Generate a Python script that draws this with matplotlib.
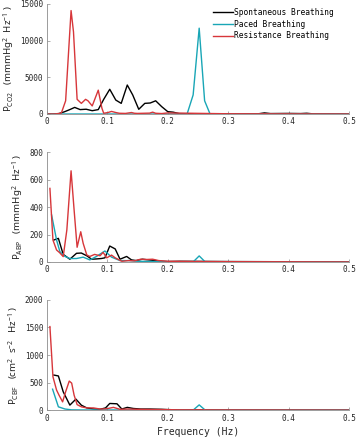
import numpy as np
import matplotlib
matplotlib.use('Agg')
import matplotlib.pyplot as plt

# spectra (frequency in Hz, power)
labels = ['Spontaneous Breathing', 'Paced Breathing', 'Resistance Breathing']
colors = ['#000000', '#19a6b6', '#d7363a']

# P_CO2
co2_spont_f = [0, 0.01, 0.02, 0.029, 0.039, 0.046, 0.055, 0.065, 0.075, 0.085, 0.094, 0.104,
               0.114, 0.123, 0.133, 0.142, 0.152, 0.162, 0.171, 0.180, 0.190, 0.200, 0.209,
               0.219, 0.25, 0.3, 0.35, 0.36, 0.37, 0.4, 0.42, 0.43, 0.44, 0.5]
co2_spont_p = [0, 10, 60, 300, 640, 900, 600, 650, 450, 600, 2000, 3370,
               1900, 1450, 3950, 2600, 640, 1450, 1500, 1800, 1000, 320, 250,
               50, 30, 20, 30, 150, 60, 80, 60, 100, 20, 0]
co2_paced_f = [0, 0.232, 0.242, 0.252, 0.261, 0.270, 0.5]
co2_paced_p = [0, 0, 2600, 11700, 1800, 0, 0]
co2_resist_f = [0, 0.012, 0.019, 0.024, 0.031, 0.040, 0.044, 0.050, 0.057, 0.064, 0.068, 0.075,
                0.085, 0.091, 0.094, 0.101, 0.107, 0.114, 0.12, 0.13, 0.14, 0.145, 0.15, 0.16,
                0.17, 0.175, 0.18, 0.19, 0.2, 0.22, 0.24, 0.3, 0.5]
co2_resist_p = [0, 0, 50, 150, 1800, 14100, 11200, 2000, 1450, 2000, 1800, 1100,
                3250, 800, 100, 200, 350, 200, 100, 80, 200, 100, 80, 100,
                120, 250, 100, 60, 150, 120, 100, 30, 0]

# P_ABP
abp_spont_f = [0.0116, 0.019, 0.027, 0.038, 0.049, 0.057, 0.066, 0.074, 0.082, 0.090, 0.096,
               0.104, 0.113, 0.121, 0.132, 0.140, 0.148, 0.158, 0.168, 0.18, 0.19, 0.2, 0.22,
               0.3, 0.5]
abp_spont_p = [160, 172, 55, 20, 63, 65, 45, 20, 22, 25, 30,
               116, 95, 20, 40, 15, 10, 20, 15, 10, 5, 3, 5,
               3, 0]
abp_paced_f = [0.0078, 0.016, 0.0215, 0.030, 0.038, 0.049, 0.060, 0.071, 0.082, 0.096, 0.107,
               0.121, 0.137, 0.15, 0.18, 0.2, 0.242, 0.252, 0.262, 0.3, 0.5]
abp_paced_p = [342, 160, 75, 40, 25, 25, 35, 15, 40, 80, 35,
               10, 10, 5, 3, 2, 0, 44, 0, 0, 0]
abp_resist_f = [0.005, 0.010, 0.016, 0.021, 0.027, 0.033, 0.040, 0.045, 0.050, 0.056, 0.060,
                0.066, 0.071, 0.079, 0.088, 0.093, 0.099, 0.107, 0.113, 0.124, 0.135, 0.145,
                0.155, 0.165, 0.175, 0.185, 0.2, 0.25, 0.3, 0.5]
abp_resist_p = [536, 160, 87, 68, 39, 233, 664, 380, 107, 220, 136,
                51, 40, 55, 45, 70, 30, 50, 30, 5, 10, 8,
                20, 18, 20, 10, 5, 3, 2, 0]

# P_CBF
cbf_spont_f = [0.0116, 0.019, 0.027, 0.038, 0.048, 0.057, 0.066, 0.077, 0.088, 0.097, 0.104,
               0.116, 0.124, 0.133, 0.143, 0.155, 0.17, 0.19, 0.2, 0.22, 0.3, 0.5]
cbf_spont_p = [636, 620, 333, 91, 200, 90, 40, 20, 15, 40, 121,
               115, 20, 50, 30, 20, 20, 15, 10, 3, 2, 0]
cbf_paced_f = [0.0094, 0.019, 0.030, 0.041, 0.06, 0.1, 0.15, 0.2, 0.242, 0.252, 0.262, 0.3, 0.5]
cbf_paced_p = [380, 60, 20, 5, 3, 3, 2, 2, 0, 95, 0, 0, 0]
cbf_resist_f = [0.005, 0.010, 0.016, 0.020, 0.026, 0.031, 0.037, 0.041, 0.045, 0.050, 0.057,
                0.066, 0.077, 0.088, 0.099, 0.110, 0.121, 0.135, 0.15, 0.17, 0.19, 0.22, 0.3, 0.5]
cbf_resist_p = [1515, 606, 364, 273, 150, 333, 527, 490, 273, 100, 60,
                40, 40, 20, 25, 50, 15, 20, 15, 12, 10, 5, 3, 0]

xticks = [0, 0.1, 0.2, 0.3, 0.4, 0.5]
xticklabels = ['0', '0.1', '0.2', '0.3', '0.4', '0.5']

panels = [
    ([(co2_spont_f, co2_spont_p), (co2_paced_f, co2_paced_p), (co2_resist_f, co2_resist_p)],
     [0, 5000, 10000, 15000],
     r'P$_{\mathregular{CO2}}$   (mmmHg$^{\mathregular{2}}$  Hz$^{\mathregular{-1}}$ )'),
    ([(abp_spont_f, abp_spont_p), (abp_paced_f, abp_paced_p), (abp_resist_f, abp_resist_p)],
     [0, 200, 400, 600, 800],
     r'P$_{\mathregular{ABP}}$   (mmmHg$^{\mathregular{2}}$  Hz$^{\mathregular{-1}}$ )'),
    ([(cbf_spont_f, cbf_spont_p), (cbf_paced_f, cbf_paced_p), (cbf_resist_f, cbf_resist_p)],
     [0, 500, 1000, 1500, 2000],
     r'P$_{\mathregular{CBF}}$   (cm$^{\mathregular{2}}$  s$^{\mathregular{-2}}$   Hz$^{\mathregular{-1}}$ )'),
]

plt.rcParams['mathtext.default'] = 'regular'
mono = 'DejaVu Sans Mono'
axcol = '#8c8c8c'

fig = plt.figure(figsize=(3.58, 4.41), dpi=100)
boxes = [(0.131, 0.7415, 0.844, 0.2495),
         (0.131, 0.406, 0.844, 0.249),
         (0.131, 0.070, 0.844, 0.250)]

for i, (series, yticks, ylab) in enumerate(panels):
    ax = fig.add_axes(boxes[i])
    for (f, p), c, lab in zip(series, colors, labels):
        ax.plot(f, p, color=c, lw=1.0, label=lab)
    ax.set_xlim(0, 0.5)
    ax.set_ylim(yticks[0], yticks[-1])
    ax.set_xticks(xticks)
    ax.set_xticklabels(xticklabels, fontfamily=mono, fontsize=5.5, color='#262626')
    ax.set_yticks(yticks)
    ax.set_yticklabels([str(t) for t in yticks], fontfamily=mono, fontsize=5.5, color='#262626')
    ax.tick_params(direction='in', length=2.5, width=0.5, color=axcol, pad=2.5)
    for s in ['top', 'right']:
        ax.spines[s].set_visible(False)
    for s in ['left', 'bottom']:
        ax.spines[s].set_color(axcol)
        ax.spines[s].set_linewidth(0.6)
    ax.set_ylabel(ylab, fontfamily='Noto Sans', fontsize=7, color='#262626', labelpad=3)
    if i == 0:
        ax.legend(loc='upper left', bbox_to_anchor=(0.55, 0.965), frameon=False,
                  prop={'family': mono, 'size': 5.7}, handlelength=2.5,
                  handletextpad=0.15, labelspacing=0.35, borderaxespad=0, borderpad=0)
    if i == 2:
        ax.set_xlabel('Frequency (Hz)', fontfamily=mono, fontsize=7, color='#262626', labelpad=3)

fig.savefig('out.png', dpi=100)
